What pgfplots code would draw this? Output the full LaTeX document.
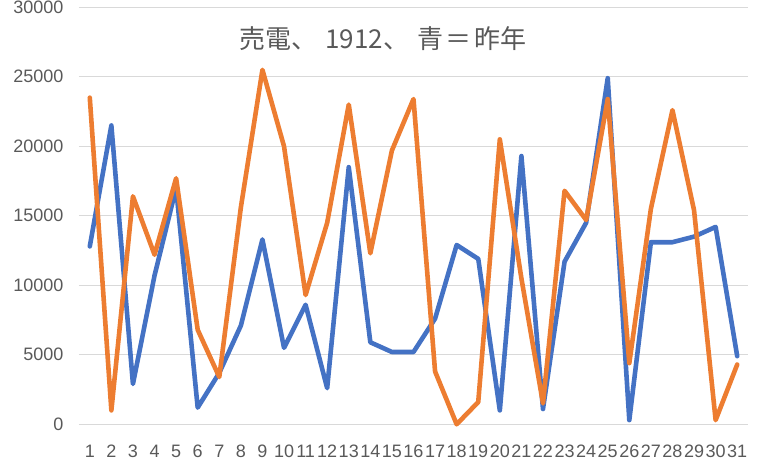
\documentclass[border=0pt]{standalone}
\usepackage{pgfplots}
\pgfplotsset{compat=1.18}
\usepackage{fontspec}
\setmainfont{Liberation Sans}
\newfontfamily\cjk{Noto Sans CJK JP}
\definecolor{xlblue}{HTML}{4472C4}
\definecolor{xlorange}{HTML}{ED7D31}
\definecolor{xlgrid}{HTML}{D9D9D9}
\definecolor{xltext}{HTML}{595959}
\begin{document}
\begin{tikzpicture}
\useasboundingbox (-79pt,-37.7pt) rectangle (679pt,424.3pt);
\begin{axis}[
  at={(0pt,0pt)}, anchor=south west,
  scale only axis, width=669pt, height=417pt,
  xmin=0.5, xmax=31.5, ymin=0, ymax=30000,
  axis line style={draw=none},
  xtick={1,...,31}, ytick={0,5000,...,30000},
  major tick length=0pt,
  ymajorgrids, grid style={xlgrid, line width=1.3pt},
  /pgf/number format/assume math mode=true,
  scaled y ticks=false,
  yticklabel style={/pgf/number format/1000 sep={}, font=\fontsize{18}{20}\selectfont, text=xltext, xshift=-12pt},
  xticklabel style={font=\fontsize{18}{20}\selectfont, text=xltext, yshift=-17pt},
  clip=false,
]
\addplot[xlblue, line width=4.6pt, line join=round, line cap=round] coordinates {
(1,12800)(2,21500)(3,2900)(4,10700)(5,17000)(6,1200)(7,3700)(8,7100)(9,13300)(10,5500)
(11,8600)(12,2600)(13,18500)(14,5900)(15,5200)(16,5200)(17,7600)(18,12900)(19,11900)(20,1000)
(21,19300)(22,1100)(23,11700)(24,14500)(25,24900)(26,300)(27,13100)(28,13100)(29,13500)(30,14200)(31,4900)
};
\addplot[xlorange, line width=4.6pt, line join=round, line cap=round] coordinates {
(1,23500)(2,1000)(3,16400)(4,12200)(5,17700)(6,6800)(7,3400)(8,15600)(9,25500)(10,20000)
(11,9300)(12,14500)(13,23000)(14,12300)(15,19700)(16,23400)(17,3800)(18,0)(19,1600)(20,20500)
(21,10500)(22,1500)(23,16800)(24,14700)(25,23400)(26,4400)(27,15500)(28,22600)(29,15400)(30,300)(31,4300)
};
\end{axis}
\node[text=xltext, font=\cjk\fontsize{26}{30}\selectfont, inner sep=0pt] at (304pt,386pt) {売電、\hspace{0.3em}1912、\hspace{0.3em}青\hspace{0.1em}＝\hspace{0.1em}昨年};
\end{tikzpicture}
\end{document}
